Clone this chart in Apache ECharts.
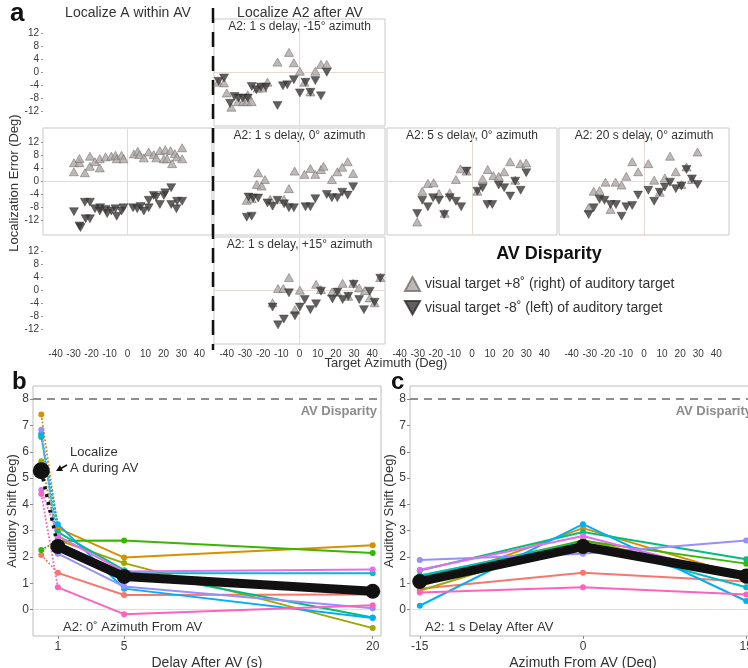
<!DOCTYPE html>
<html lang="en">
<head>
  <meta charset="UTF-8">
  <title>Auditory shift after AV</title>
  <style>
    html, body { margin: 0; padding: 0; background: #fff; }
    #chart { width: 748px; height: 668px; }
  </style>
</head>
<body>
  <div id="chart"></div>
  <script src="https://cdn.jsdelivr.net/npm/echarts/dist/echarts.min.js"></script>
  <script>
    const FONT = 'Liberation Sans, Arial, sans-serif';
    const UP_NAME = 'visual target +8˚ (right) of auditory target';
    const DOWN_NAME = 'visual target -8˚ (left) of auditory target';

    // ---- panel a : [target azimuth, localization error] ----
    const withinUp = [[-29.8,5.8],[-29.8,3.0],[-26.7,5.8],[-26.7,7.1],[-23.7,2.7],[-20.9,7.8],[-20.9,4.7],[-18.1,6.1],[-15.4,4.2],[-15.4,7.0],[-12.2,7.6],[-9.0,7.8],[-6.7,8.1],[-6.0,7.0],[-3.3,8.1],[-2.2,7.0],[3.5,8.5],[5.7,9.3],[6.7,8.3],[9.1,7.3],[11.8,9.1],[14.6,8.3],[16.0,7.3],[18.0,9.5],[20.2,7.0],[21.0,9.8],[22.0,7.0],[23.9,9.5],[24.8,5.5],[26.3,8.6],[27.6,7.6],[30.4,10.4],[30.4,7.0]];
    const withinDown = [[-29.8,-9.3],[-26.7,-13.7],[-26.1,-14.2],[-23.7,-6.4],[-20.9,-6.4],[-23.3,-11.5],[-20.9,-11.5],[-18.1,-8.4],[-15.4,-9.1],[-15.2,-8.1],[-12.2,-8.6],[-11.3,-9.9],[-9.0,-9.1],[-6.7,-8.4],[-6.0,-10.7],[-3.3,-9.1],[-2.2,-8.1],[3.1,-8.1],[5.4,-8.4],[7.3,-7.7],[9.1,-9.1],[11.8,-8.1],[11.8,-5.8],[14.6,-4.3],[16.0,-4.8],[18.0,-7.1],[20.2,-4.3],[21.0,-3.5],[24.3,-1.9],[24.3,-7.1],[27.2,-8.4],[27.6,-6.1],[30.4,-6.1]];

    const m15Up = [[-44.7,-3.0],[-41.5,-3.2],[-40.0,-6.3],[-37.5,-10.7],[-33.9,-9.0],[-31.1,-9.0],[-28.8,-9.0],[-26.3,-9.0],[-28.4,-6.9],[-23.0,-4.8],[-20.3,-4.8],[-17.6,-3.0],[-12.1,3.2],[-5.8,6.2],[-3.1,3.0],[0.2,0.4],[6.0,-6.0],[8.7,0.4],[11.8,2.5],[15.0,2.5],[2.7,-3.0]];
    const m15Down = [[-44.5,-2.7],[-41.5,-1.7],[-38.2,-9.5],[-35.7,-7.4],[-33.5,-7.9],[-31.1,-7.9],[-28.4,-7.9],[-26.3,-4.3],[-23.7,-5.3],[-21.2,-4.5],[-18.5,-4.5],[-12.1,-10.2],[-9.1,-4.1],[-6.7,-3.8],[-3.1,-2.2],[0.2,-6.3],[3.3,-3.0],[8.7,-2.5],[11.8,-7.2],[15.0,0.1],[6.0,-6.1]];

    const d1Up = [[-29.0,-5.8],[-26.3,-5.3],[-23.5,-0.9],[-20.8,-1.4],[-22.7,2.7],[-19.0,0.6],[-16.1,-5.5],[-8.5,-5.5],[-5.8,-2.2],[-2.7,3.2],[2.7,2.2],[6.0,4.0],[8.7,2.2],[11.8,3.7],[13.2,4.7],[17.8,0.6],[20.8,3.0],[23.5,4.4],[26.5,6.1],[29.5,2.5]];
    const d1Down = [[-29.0,-11.0],[-26.3,-10.7],[-28.0,-4.8],[-25.5,-5.1],[-22.7,-5.1],[-17.6,-6.6],[-14.8,-7.6],[-12.1,-5.8],[-8.5,-6.9],[-5.8,-8.1],[-3.1,-8.1],[3.3,-7.8],[6.0,-7.8],[8.7,-5.3],[15.0,-4.0],[17.8,-5.0],[20.8,-5.0],[23.5,-3.3],[26.5,-4.2],[29.5,-1.6]];

    const d5Up = [[-30.3,-12.5],[-27.5,-3.0],[-24.4,-0.6],[-21.2,-0.4],[-18.3,-3.7],[-15.1,-9.8],[-12.3,-3.5],[-8.9,0.6],[-6.3,3.9],[-3.0,3.2],[3.0,-3.0],[5.9,0.8],[8.7,3.7],[11.8,1.8],[14.8,1.6],[17.8,3.0],[21.1,6.1],[23.9,0.4],[26.7,5.5],[30.0,5.7]];
    const d5Down = [[-30.3,-9.9],[-27.5,-5.8],[-24.4,-7.8],[-21.5,-5.0],[-18.3,-5.8],[-15.4,-10.2],[-12.3,-5.0],[-8.9,-6.1],[-6.0,-7.8],[-3.0,3.2],[3.0,-3.0],[5.9,-1.9],[8.5,-7.1],[11.2,-7.1],[14.8,-1.1],[17.8,-1.9],[21.1,-4.5],[23.9,0.1],[26.9,-2.7],[30.0,2.7]];

    const d20Up = [[-30.6,-8.1],[-27.8,-3.0],[-24.6,-2.8],[-21.3,-0.2],[-18.5,-8.6],[-15.7,-0.2],[-12.4,-1.1],[-9.8,1.6],[-6.5,6.1],[-3.3,3.0],[2.4,5.5],[5.6,0.4],[8.7,-3.3],[11.5,1.1],[14.4,7.8],[17.6,3.0],[20.7,-0.9],[23.5,4.5],[26.5,0.6],[29.6,9.1]];
    const d20Down = [[-30.6,-10.2],[-27.8,-8.1],[-24.6,-5.5],[-21.9,-5.8],[-18.5,-7.1],[-15.5,-7.1],[-12.4,-10.7],[-9.8,-7.8],[-6.5,-7.4],[-3.3,-4.2],[2.4,-2.7],[5.6,-6.1],[8.7,-3.3],[11.5,-1.7],[14.4,-0.2],[17.6,-2.2],[20.7,-1.4],[23.5,3.7],[26.5,0.8],[29.6,-0.9]];

    const p15Up = [[-14.8,-3.8],[-11.8,0.6],[-8.9,0.6],[-5.8,4.0],[-2.5,-5.9],[0.2,0.1],[9.1,1.9],[11.8,0.3],[17.8,-0.5],[20.8,-0.5],[23.7,2.2],[26.8,-1.8],[29.5,2.2],[32.8,0.8],[35.9,0.0],[38.6,-2.3],[41.3,-3.8],[44.4,4.0]];
    const p15Down = [[-14.8,-5.1],[-11.8,-10.6],[-8.6,-8.8],[-5.8,-0.7],[-2.5,-7.8],[0.2,-5.1],[2.9,-2.8],[6.0,-5.9],[9.1,-4.1],[11.8,-0.2],[18.1,-2.6],[20.8,-0.5],[23.7,-2.8],[26.8,-1.8],[29.8,1.9],[32.8,-2.8],[35.4,-5.9],[38.6,-0.2],[41.3,-3.6],[44.4,3.8]];

    const yTicksA = [-12, -8, -4, 0, 4, 8, 12];
    const xTicksA = [-40, -30, -20, -10, 0, 10, 20, 30, 40];

    // ---- panels b and c : auditory shift (deg) per subject ----
    const subjColors = ['#F8766D', '#D89000', '#A3A500', '#39B600', '#00BF7D', '#00BFC4', '#00B0F6', '#9590FF', '#E76BF3', '#FF62BC'];
    const delays = [1, 5, 20];
    const duringAV = [2.08, 7.42, 5.64, 2.27, 6.56, 6.62, 6.69, 6.84, 4.55, 4.4];
    const shiftByDelay = [
      [1.40, 0.56, 0.58],
      [3.10, 1.98, 2.45],
      [2.65, 1.77, -0.70],
      [2.62, 2.63, 2.15],
      [2.95, 1.50, -0.30],
      [2.55, 1.38, 1.38],
      [3.25, 0.80, -0.32],
      [2.13, 0.88, 0.05],
      [2.80, 1.45, 1.53],
      [0.85, -0.17, 0.17]
    ];
    const meanDuring = 5.28;
    const meanByDelay = [2.40, 1.26, 0.70];

    const azimuths = [-15, 0, 15];
    const shiftByAzimuth = [
      [0.80, 1.40, 1.07],
      [0.88, 3.10, 1.25],
      [0.72, 2.65, 1.20],
      [1.25, 2.62, 1.75],
      [1.49, 2.95, 1.92],
      [1.30, 2.55, 0.85],
      [0.15, 3.25, 0.33],
      [1.89, 2.13, 2.63],
      [1.52, 2.80, 1.20],
      [0.65, 0.85, 0.58]
    ];
    const meanByAzimuth = [1.07, 2.40, 1.28];
    const disparity = 8;

    // ---- layout of panel a ----
    const cols = [{ left: 43, width: 169 }, { left: 214, width: 171 }, { left: 387, width: 170 }, { left: 559, width: 170 }];
    const rowTops = [19, 128, 237];
    const ROW_H = 107;

    const cells = [
      { r: 0, c: 0, yLab: true },
      { r: 0, c: 1, box: true, title: 'A2: 1 s delay, -15° azimuth', up: m15Up, down: m15Down },
      { r: 1, c: 0, box: true, yLab: true, up: withinUp, down: withinDown },
      { r: 1, c: 1, box: true, title: 'A2: 1 s delay, 0° azimuth', up: d1Up, down: d1Down },
      { r: 1, c: 2, box: true, title: 'A2: 5 s delay, 0° azimuth', up: d5Up, down: d5Down },
      { r: 1, c: 3, box: true, title: 'A2: 20 s delay, 0° azimuth', up: d20Up, down: d20Down },
      { r: 2, c: 0, yLab: true, xLab: true },
      { r: 2, c: 1, box: true, xLab: true, title: 'A2: 1 s delay, +15° azimuth', up: p15Up, down: p15Down },
      { r: 2, c: 2, xLab: true },
      { r: 2, c: 3, xLab: true }
    ];

    const grid = [], xAxis = [], yAxis = [], series = [], graphic = [];
    const labelStyle = { fontFamily: FONT, color: '#3a3a3a' };

    const upStyle = { color: '#aca8a6', borderColor: '#736e6c', borderWidth: 0.7 };
    const downStyle = { color: '#3b3737', borderColor: '#2e2a2a', borderWidth: 0.5 };
    const DOWN_ICON = 'path://M0,0L10,0L5,9Z';

    cells.forEach((cell, i) => {
      const col = cols[cell.c];
      grid.push({
        left: col.left, top: rowTops[cell.r], width: col.width, height: ROW_H, outerBoundsMode: 'none',
        show: !!cell.box, borderColor: '#c9c9c9', borderWidth: 1, backgroundColor: 'transparent'
      });
      xAxis.push({
        type: 'value', gridIndex: i, min: -47, max: 47,
        axisLine: { show: false, onZero: false }, axisTick: { show: false }, splitLine: { show: false },
        axisLabel: { show: !!cell.xLab, customValues: xTicksA, fontSize: 10, margin: 5, ...labelStyle }
      });
      yAxis.push({
        type: 'value', gridIndex: i, min: -16.5, max: 16.5,
        axisLine: { show: false, onZero: false }, splitLine: { show: false },
        axisTick: { show: !!cell.yLab, customValues: yTicksA, length: 2, lineStyle: { color: '#999' } },
        axisLabel: { show: !!cell.yLab, customValues: yTicksA, fontSize: 10, margin: 4, ...labelStyle }
      });
      if (cell.up) {
        series.push({
          type: 'scatter', name: UP_NAME, xAxisIndex: i, yAxisIndex: i, z: 3,
          data: cell.up, symbol: 'triangle', symbolSize: [9, 8], itemStyle: upStyle,
          markLine: {
            z: 1, silent: true, symbol: ['none', 'none'], label: { show: false },
            lineStyle: { color: '#e6dad7', type: 'solid', width: 1 },
            data: [{ yAxis: 0 }, { xAxis: 0 }]
          }
        });
        series.push({
          type: 'scatter', name: DOWN_NAME, xAxisIndex: i, yAxisIndex: i, z: 3,
          data: cell.down, symbol: DOWN_ICON, symbolSize: [9, 8], itemStyle: downStyle
        });
      }
      if (cell.title) {
        graphic.push({
          type: 'text', x: col.left + col.width / 2, y: rowTops[cell.r] + 8,
          style: { text: cell.title, font: '12px ' + FONT, fill: '#333', textAlign: 'center', textVerticalAlign: 'middle' }
        });
      }
    });

    // ---- panels b and c ----
    const B = grid.length;
    grid.push({ left: 33, top: 386, width: 348, height: 250, outerBoundsMode: 'none', show: true, borderColor: '#bdbdbd', borderWidth: 1 });
    grid.push({ left: 410, top: 386, width: 346, height: 250, outerBoundsMode: 'none', show: true, borderColor: '#bdbdbd', borderWidth: 1 });

    const shiftTicks = [0, 1, 2, 3, 4, 5, 6, 7, 8];
    const bcY = (gi, gap) => ({
      type: 'value', gridIndex: gi, min: -1, max: 8.5,
      axisLine: { show: false, onZero: false }, splitLine: { show: false },
      axisTick: { show: true, customValues: shiftTicks, length: 3, lineStyle: { color: '#888' } },
      axisLabel: { customValues: shiftTicks, fontSize: 12, margin: 4, ...labelStyle },
      name: 'Auditory Shift (Deg)', nameLocation: 'middle', nameGap: gap,
      nameTextStyle: { fontSize: 13, fontFamily: FONT, color: '#333' }
    });
    const bcX = (gi, min, max, ticks, name) => ({
      type: 'value', gridIndex: gi, min, max,
      axisLine: { show: false, onZero: false }, splitLine: { show: false },
      axisTick: { show: true, customValues: ticks, length: 3, lineStyle: { color: '#888' } },
      axisLabel: { customValues: ticks, fontSize: 12, margin: 5, ...labelStyle },
      name, nameLocation: 'middle', nameGap: 20,
      nameTextStyle: { fontSize: 14, fontFamily: FONT, color: '#333' }
    });
    xAxis.push(bcX(B, -0.5, 20.5, delays, 'Delay After AV (s)'));
    xAxis.push(bcX(B + 1, -15.9, 15.9, azimuths, 'Azimuth From AV (Deg)'));
    yAxis.push(bcY(B, 9));
    yAxis.push(bcY(B + 1, 11));

    // reference lines: zero and the AV disparity
    [B, B + 1].forEach(gi => {
      series.push({
        type: 'line', xAxisIndex: gi, yAxisIndex: gi, data: [], z: 1,
        markLine: {
          z: 1, silent: true, symbol: ['none', 'none'],
          data: [
            { yAxis: 0, lineStyle: { color: '#dedede', type: 'solid', width: 1 }, label: { show: false } },
            {
              yAxis: disparity, lineStyle: { color: '#8e8e8e', type: [8, 6], width: 2 },
              label: { show: true, position: 'insideEndBottom', formatter: 'AV Disparity', distance: [4, 6],
                color: '#8c8c8c', fontWeight: 'bold', fontSize: 13, fontFamily: FONT }
            }
          ]
        }
      });
    });

    subjColors.forEach((color, s) => {
      // dotted link from "during AV" to 1 s
      series.push({
        type: 'line', xAxisIndex: B, yAxisIndex: B, z: 3, color,
        data: [{ value: [0, duringAV[s]] }, { value: [1, shiftByDelay[s][0]], symbol: 'none' }],
        symbol: 'circle', symbolSize: 6, lineStyle: { width: 1.8, type: 'dotted', color },
        itemStyle: { color }
      });
      series.push({
        type: 'line', xAxisIndex: B, yAxisIndex: B, z: 3,
        data: delays.map((d, k) => [d, shiftByDelay[s][k]]),
        symbol: 'circle', symbolSize: 6, lineStyle: { width: 2, color }, itemStyle: { color }
      });
      series.push({
        type: 'line', xAxisIndex: B + 1, yAxisIndex: B + 1, z: 3,
        data: azimuths.map((a, k) => [a, shiftByAzimuth[s][k]]),
        symbol: 'circle', symbolSize: 6, lineStyle: { width: 2, color }, itemStyle: { color }
      });
    });

    // group mean
    series.push({
      type: 'line', xAxisIndex: B, yAxisIndex: B, z: 5,
      data: [{ value: [0, meanDuring] }, { value: [1, meanByDelay[0]], symbol: 'none' }],
      symbol: 'circle', symbolSize: 17, lineStyle: { width: 3.5, type: [3, 5], color: '#111' },
      itemStyle: { color: '#111' }
    });
    series.push({
      type: 'line', xAxisIndex: B, yAxisIndex: B, z: 6,
      data: delays.map((d, k) => [d, meanByDelay[k]]),
      symbol: 'circle', symbolSize: 15, lineStyle: { width: 9, color: '#111' }, itemStyle: { color: '#111' }
    });
    series.push({
      type: 'line', xAxisIndex: B + 1, yAxisIndex: B + 1, z: 6,
      data: azimuths.map((a, k) => [a, meanByAzimuth[k]]),
      symbol: 'circle', symbolSize: 15, lineStyle: { width: 9, color: '#111' }, itemStyle: { color: '#111' }
    });

    // ---- free text and decorations ----
    const txt = (x, y, text, font, extra) => ({
      type: 'text', x, y,
      style: Object.assign({ text, font: font + ' ' + FONT, fill: '#333', textAlign: 'left', textVerticalAlign: 'middle' }, extra || {})
    });
    graphic.push(
      txt(10, 14, 'a', 'bold 26px', { fill: '#111' }),
      txt(128, 13, 'Localize A within AV', '14px', { textAlign: 'center' }),
      txt(300, 13, 'Localize A2 after AV', '14px', { textAlign: 'center' }),
      Object.assign(txt(14, 183, 'Localization Error (Deg)', '13px', { textAlign: 'center' }), { rotation: Math.PI / 2 }),
      txt(386, 363, 'Target Azimuth (Deg)', '13px', { textAlign: 'center' }),
      txt(549, 254, 'AV Disparity', 'bold 18px', { textAlign: 'center', fill: '#111' }),
      {
        type: 'line', shape: { x1: 213, y1: 8, x2: 213, y2: 350 },
        style: { stroke: '#111', lineWidth: 2.5, lineDash: [15, 9] }
      },
      txt(12, 382, 'b', 'bold 24px', { fill: '#111' }),
      txt(391, 382, 'c', 'bold 24px', { fill: '#111' }),
      txt(70, 452, 'Localize', '13px'),
      txt(70, 468, 'A during AV', '13px'),
      {
        type: 'line', shape: { x1: 67, y1: 465, x2: 60, y2: 469 },
        style: { stroke: '#111', lineWidth: 1.5 }
      },
      {
        type: 'polygon', shape: { points: [[56, 471], [60, 465], [63, 471]] },
        style: { fill: '#111' }
      },
      txt(63, 627, 'A2: 0˚ Azimuth From AV', '13px'),
      txt(425, 627, 'A2: 1 s Delay After AV', '13px')
    );

    const chart = echarts.init(document.getElementById('chart'), null, { renderer: 'canvas' });
    chart.setOption({
      animation: false,
      backgroundColor: '#fff',
      textStyle: { fontFamily: FONT },
      legend: {
        orient: 'vertical', left: 399, top: 271, itemWidth: 15, itemHeight: 14, itemGap: 8,
        selectedMode: false,
        textStyle: { fontSize: 14, color: '#333', fontFamily: FONT },
        data: [{ name: UP_NAME, icon: 'triangle' }, { name: DOWN_NAME, icon: DOWN_ICON }]
      },
      grid, xAxis, yAxis, series, graphic
    });
  </script>
</body>
</html>
